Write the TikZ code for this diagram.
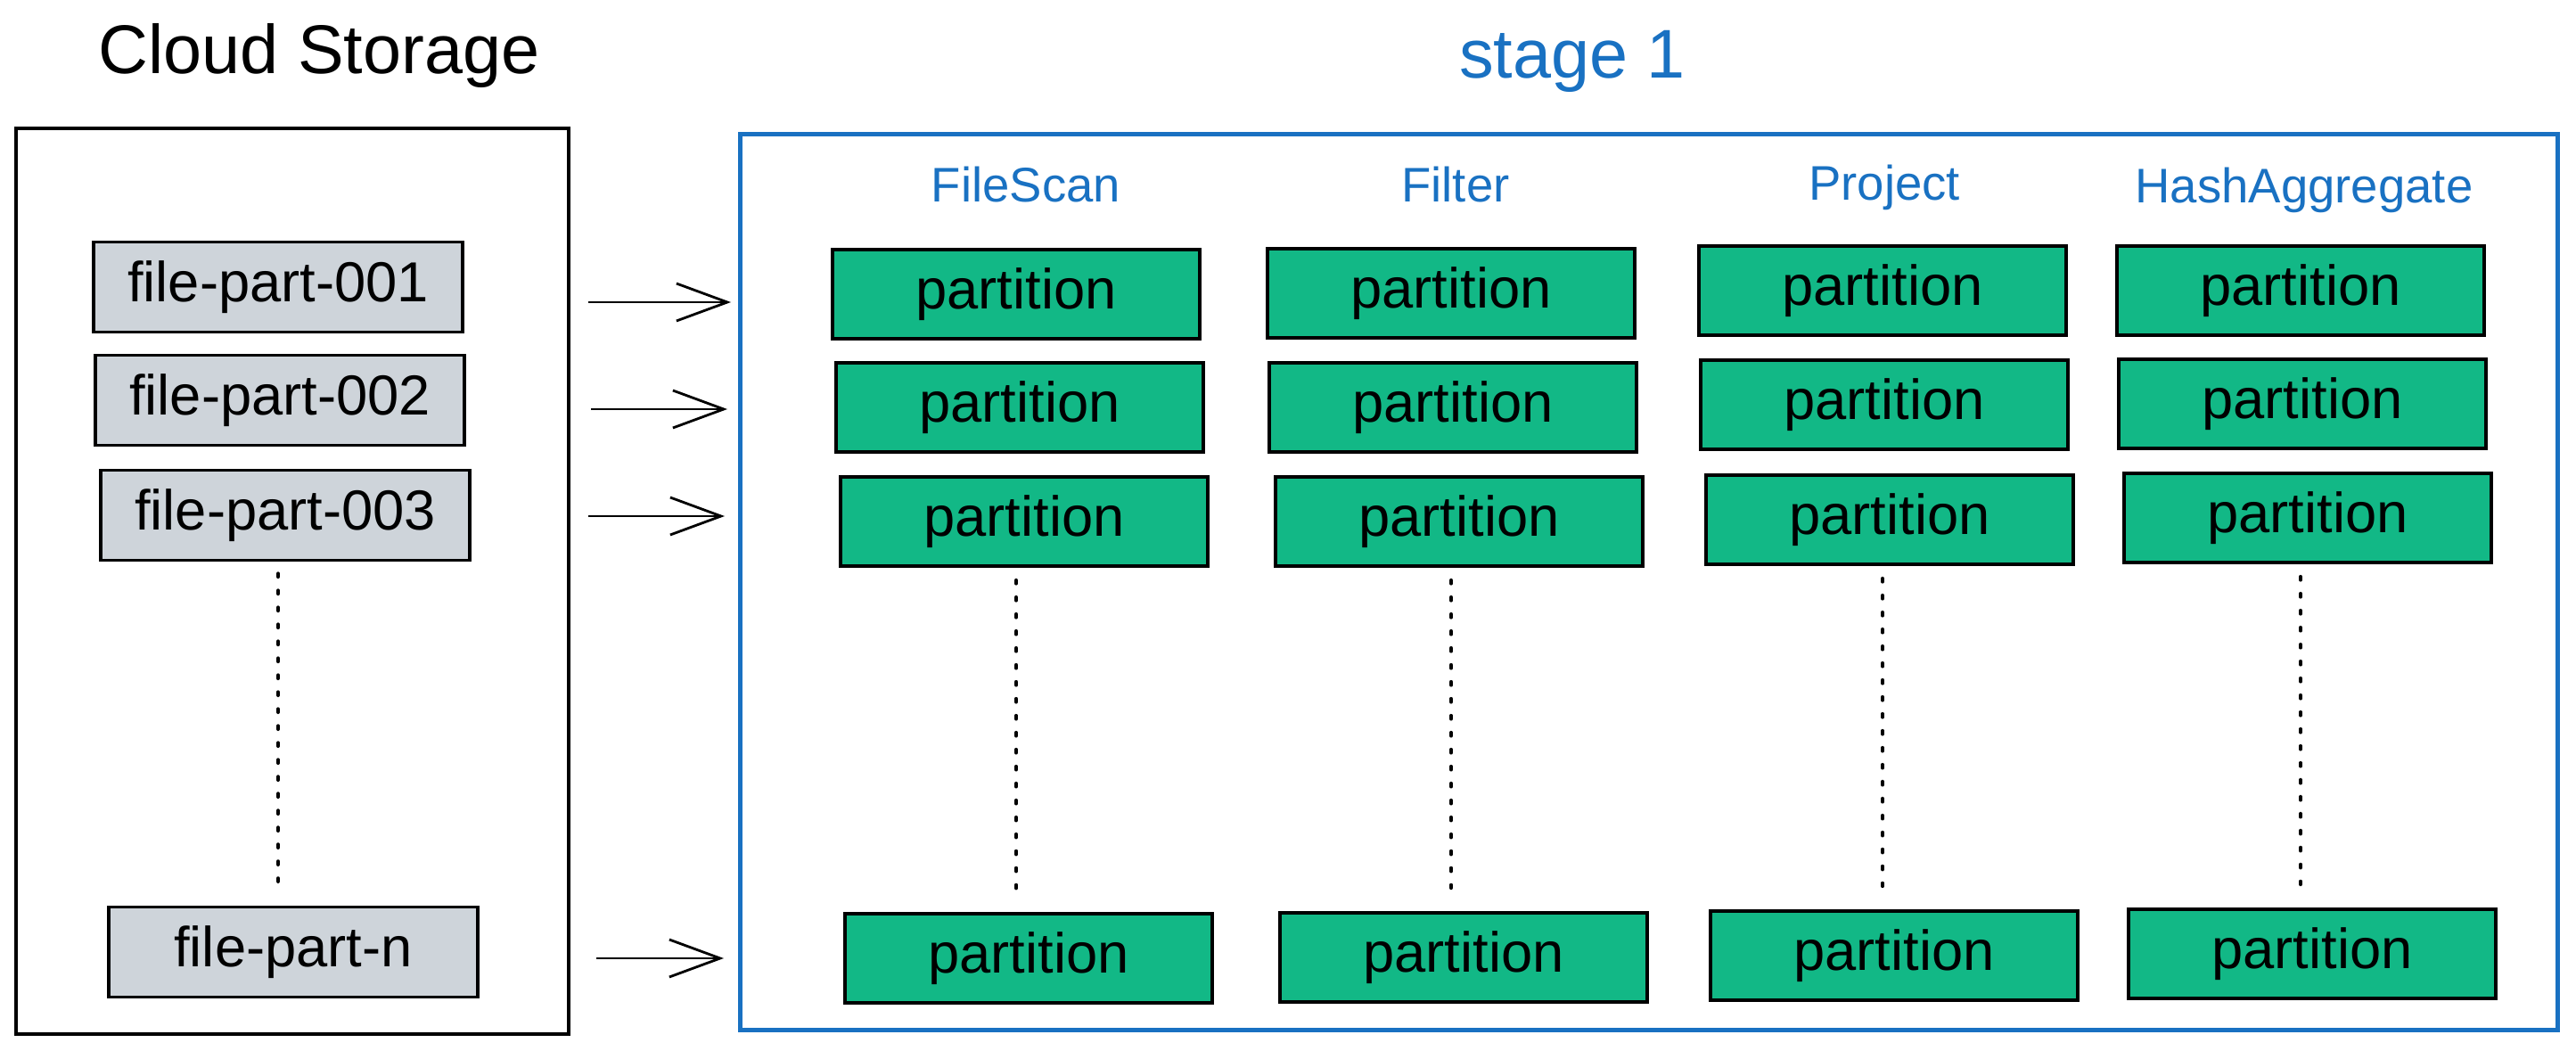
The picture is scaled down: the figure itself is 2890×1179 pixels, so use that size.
\documentclass[tikz,border=0pt]{standalone}
\usepackage{fontspec}
\setmainfont{Liberation Sans}
\usetikzlibrary{arrows.meta}
\definecolor{stageblue}{HTML}{1971C2}
\definecolor{partgreen}{HTML}{12B886}
\definecolor{filegray}{HTML}{CED4DA}
\begin{document}
\begin{tikzpicture}[x=0.01cm,y=-0.01cm,
  partbox/.style={draw=black, line width=1.1pt, fill=partgreen, minimum width=4.12cm, minimum height=1cm, inner sep=0pt, font=\fontsize{18}{20}\selectfont},
  filebox/.style={draw=black, line width=1.1pt, fill=filegray, minimum width=4.13cm, minimum height=1.01cm, inner sep=0pt, font=\fontsize{18}{20}\selectfont},
  header/.style={text=stageblue, anchor=base, font=\fontsize{15.5}{18}\selectfont},
  bigtitle/.style={anchor=base, font=\fontsize{22}{26}\selectfont},
  dotline/.style={line width=1.2pt, line cap=round, dash pattern=on 1pt off 4.4pt},
  arr/.style={line width=0.8pt, -{Straight Barb[length=0.57cm, width=0.42cm]}}]
\useasboundingbox (0,0) rectangle (2890,1179);

% titles
\node[bigtitle] (cstitle) at (358,83) {Cloud Storage};
\node[bigtitle, text=stageblue] (sttitle) at (1764,88) {stage 1};

% containers
\node[draw=black, line width=1.3pt, minimum width=6.2cm, minimum height=10.15cm] (cs) at (328,652) {};
\node[draw=stageblue, line width=1.3pt, minimum width=20.38cm, minimum height=10.04cm] (stage) at (1850,653) {};

% files
\node[filebox] (f1) at (312,322) {file-part-001};
\node[filebox] (f2) at (314,449) {file-part-002};
\node[filebox] (f3) at (320,578) {file-part-003};
\node[filebox] (fn) at (329,1068) {file-part-n};
\draw[dotline] ([yshift=-0.13cm]f3.south -| f1.south) -- ([yshift=0.26cm]fn.north -| f1.south);

% headers
\node[header] (h1) at (1151,227) {FileScan};
\node[header] (h2) at (1633,227) {Filter};
\node[header] (h3) at (2114,225) {Project};
\node[header] (h4) at (2585,228) {HashAggregate};

% partitions
\node[partbox] (p11) at (1140,330) {partition};
\node[partbox] (p12) at (1144,457) {partition};
\node[partbox] (p13) at (1149,585) {partition};
\node[partbox] (p14) at (1154,1075) {partition};
\node[partbox] (p21) at (1628,329) {partition};
\node[partbox] (p22) at (1630,457) {partition};
\node[partbox] (p23) at (1637,585) {partition};
\node[partbox] (p24) at (1642,1074) {partition};
\node[partbox] (p31) at (2112,326) {partition};
\node[partbox] (p32) at (2114,454) {partition};
\node[partbox] (p33) at (2120,583) {partition};
\node[partbox] (p34) at (2125,1072) {partition};
\node[partbox] (p41) at (2581,326) {partition};
\node[partbox] (p42) at (2583,453) {partition};
\node[partbox] (p43) at (2589,581) {partition};
\node[partbox] (p44) at (2594,1070) {partition};

\foreach \c in {1,2,3,4}{
  \draw[dotline] ([yshift=-0.14cm]p\c3.south -| p\c1.south) -- ([yshift=0.26cm]p\c4.north -| p\c1.south);
}

% arrows
\coordinate (a1s) at (660,339); \coordinate (a1e) at (820,339);
\coordinate (a2s) at (663,459); \coordinate (a2e) at (816,459);
\coordinate (a3s) at (660,579); \coordinate (a3e) at (813,579);
\coordinate (a4s) at (669,1075); \coordinate (a4e) at (812,1075);
\draw[arr] (a1s) -- (a1e);
\draw[arr] (a2s) -- (a2e);
\draw[arr] (a3s) -- (a3e);
\draw[arr] (a4s) -- (a4e);
\end{tikzpicture}
\end{document}
